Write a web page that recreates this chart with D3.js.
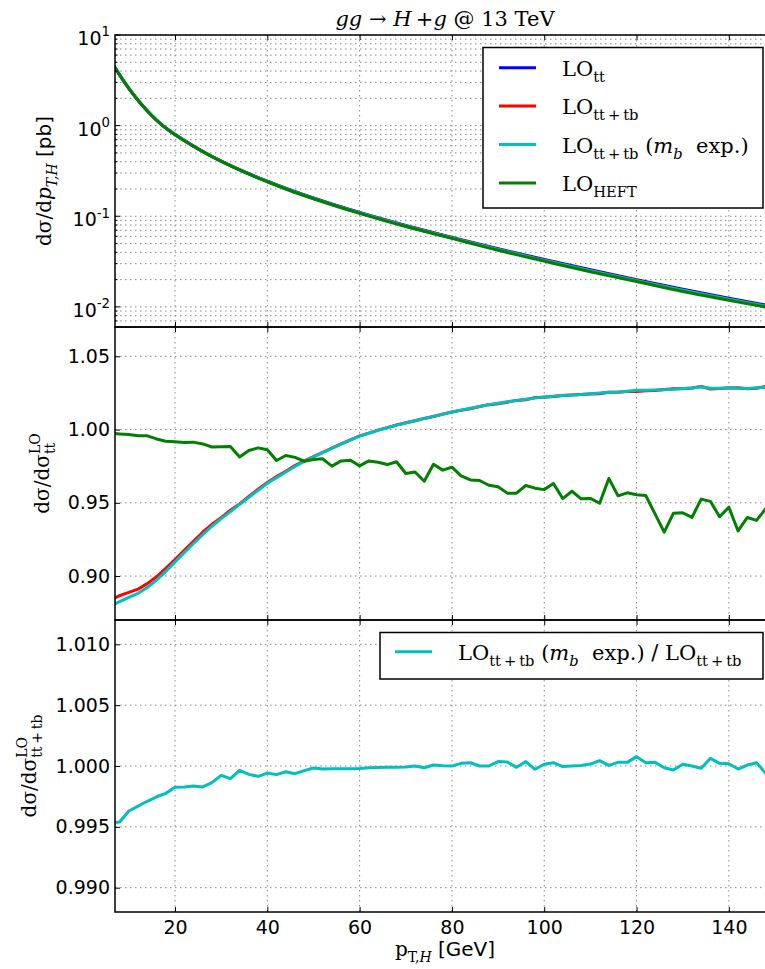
<!DOCTYPE html>
<html lang="en">
<head>
<meta charset="UTF-8">
<title>gg -> H+g @ 13 TeV</title>
<script src="https://d3js.org/d3.v7.min.js"></script>
<style>
  html, body { margin: 0; background: #fff; }
  svg { display: block; }
  text { white-space: pre; }
  .tick text { font-family: "DejaVu Sans", sans-serif; font-size: 19px; fill: #000; }
  .tick line { stroke: #000; stroke-width: 1; }
</style>
</head>
<body>
<div id="vis"></div>
<script>
// ---- data ----
// pT bins of the ratio panels [GeV]
var ptBins = [6, 8, 10, 12, 14, 16, 18, 20, 22, 24, 26, 28, 30, 32, 34, 36, 38, 40, 42, 44, 46, 48, 50, 52,
              54, 56, 58, 60, 62, 64, 66, 68, 70, 72, 74, 76, 78, 80, 82, 84, 86, 88, 90, 92, 94, 96, 98, 100,
              102, 104, 106, 108, 110, 112, 114, 116, 118, 120, 122, 124, 126, 128, 130, 132, 134, 136, 138, 140,
              142, 144, 146, 148, 150];

// middle panel: ratio to LO_tt
var ratioTTTB = [0.8837, 0.8866, 0.8888, 0.8911, 0.8948, 0.8995, 0.9052, 0.9113, 0.9176, 0.9237, 0.9299, 0.9353,
                 0.9399, 0.9450, 0.9492, 0.9544, 0.9593, 0.9639, 0.9679, 0.9715, 0.9754, 0.9787, 0.9815, 0.9845,
                 0.9874, 0.9902, 0.9930, 0.9957, 0.9976, 0.9996, 1.0013, 1.0031, 1.0046, 1.0060, 1.0076, 1.0089,
                 1.0105, 1.0120, 1.0131, 1.0142, 1.0157, 1.0170, 1.0176, 1.0187, 1.0199, 1.0203, 1.0218, 1.0221,
                 1.0225, 1.0233, 1.0236, 1.0239, 1.0243, 1.0245, 1.0254, 1.0254, 1.0259, 1.0260, 1.0265, 1.0267,
                 1.0273, 1.0278, 1.0279, 1.0284, 1.0294, 1.0276, 1.0280, 1.0283, 1.0285, 1.0279, 1.0282, 1.0294, 1.0300];
var ratioMB = [0.8795, 0.8825, 0.8855, 0.8882, 0.8922, 0.8972, 0.9032, 0.9097, 0.9160, 0.9222, 0.9283, 0.9340,
               0.9392, 0.9440, 0.9489, 0.9537, 0.9585, 0.9633, 0.9672, 0.9710, 0.9748, 0.9783, 0.9813, 0.9843,
               0.9872, 0.9900, 0.9928, 0.9955, 0.9975, 0.9995, 1.0012, 1.0030, 1.0045, 1.0060, 1.0075, 1.0090,
               1.0105, 1.0120, 1.0133, 1.0145, 1.0157, 1.0170, 1.0180, 1.0190, 1.0198, 1.0207, 1.0215, 1.0222,
               1.0228, 1.0232, 1.0236, 1.0240, 1.0245, 1.0250, 1.0255, 1.0257, 1.0262, 1.0268, 1.0268, 1.0270,
               1.0272, 1.0275, 1.0280, 1.0284, 1.0292, 1.0282, 1.0282, 1.0285, 1.0282, 1.0280, 1.0285, 1.0288, 1.0290];
var ratioHEFT = [0.9975, 0.9970, 0.9966, 0.9957, 0.9957, 0.9936, 0.9920, 0.9917, 0.9911, 0.9914, 0.9902, 0.9881,
                 0.9882, 0.9884, 0.9813, 0.9857, 0.9875, 0.9862, 0.9789, 0.9823, 0.9810, 0.9784, 0.9795, 0.9800,
                 0.9750, 0.9786, 0.9790, 0.9752, 0.9786, 0.9777, 0.9761, 0.9780, 0.9700, 0.9710, 0.9647, 0.9763,
                 0.9723, 0.9743, 0.9684, 0.9656, 0.9652, 0.9620, 0.9610, 0.9566, 0.9566, 0.9618, 0.9600, 0.9590,
                 0.9632, 0.9529, 0.9579, 0.9527, 0.9530, 0.9497, 0.9666, 0.9547, 0.9568, 0.9555, 0.9550, 0.9424,
                 0.9300, 0.9429, 0.9432, 0.9400, 0.9525, 0.9510, 0.9405, 0.9470, 0.9308, 0.9400, 0.9380, 0.9460, 0.9520];

// bottom panel: LO_tt+tb (mb exp.) / LO_tt+tb
var ratioMBoverTTTB = [0.9953, 0.9954, 0.9963, 0.9967, 0.9971, 0.99747, 0.99775, 0.99825, 0.99828, 0.99836, 0.99828, 0.99863,
                       0.99923, 0.99896, 0.99964, 0.99931, 0.99915, 0.99942, 0.99929, 0.99953, 0.99937, 0.99962, 0.99984, 0.99975,
                       0.99977, 0.99978, 0.99978, 0.99980, 0.99986, 0.99988, 0.99990, 0.99990, 0.99992, 1.00000, 0.99986, 1.00008,
                       1.00002, 0.99999, 1.00022, 1.00027, 1.00000, 1.00000, 1.00036, 1.00033, 0.99989, 1.00036, 0.99973, 1.00014,
                       1.00027, 0.99995, 1.00000, 1.00005, 1.00016, 1.00044, 1.00005, 1.00030, 1.00030, 1.00077, 1.00027, 1.00030,
                       0.99986, 0.99967, 1.00014, 1.00000, 0.99981, 1.00063, 1.00022, 1.00019, 0.99975, 1.00008, 1.00027, 0.99940, 0.99900];

// top panel: dsigma/dpT [pb]
var topPt = [6, 7, 8, 9, 10, 11, 12, 14, 16, 18, 20, 22, 24, 26, 28, 30, 35, 40, 45, 50, 55, 60, 70, 80, 90, 100, 110, 120, 130, 140, 150];
var topTT = [5.309, 4.365, 3.631, 3.048, 2.582, 2.208, 1.905, 1.459, 1.153, 0.946, 0.8017, 0.6887, 0.5970, 0.5212, 0.4592, 0.4074,
             0.3112, 0.2438, 0.1950, 0.1592, 0.1318, 0.1104, 0.07943, 0.05848, 0.04385, 0.03334, 0.02564, 0.01995, 0.01570, 0.01250, 0.01002];
var topTTTB = [5.302, 4.359, 3.626, 3.043, 2.578, 2.204, 1.901, 1.456, 1.150, 0.942, 0.798, 0.686, 0.594, 0.519, 0.4565, 0.405,
               0.309, 0.2421, 0.1932, 0.1576, 0.1303, 0.1091, 0.0782, 0.0577, 0.0430, 0.03266, 0.02504, 0.01951, 0.01526, 0.01217, 0.00978];
var topMB = [5.301, 4.358, 3.625, 3.042, 2.577, 2.203, 1.900, 1.455, 1.149, 0.941, 0.797, 0.685, 0.593, 0.518, 0.4560, 0.4045,
             0.3087, 0.2419, 0.1930, 0.1575, 0.1302, 0.1090, 0.0781, 0.0576, 0.0429, 0.03262, 0.02500, 0.01948, 0.01524, 0.01215, 0.00976];
var topHEFT = [5.296, 4.353, 3.620, 3.038, 2.573, 2.199, 1.897, 1.453, 1.146, 0.9385, 0.7950, 0.6826, 0.5919, 0.5161, 0.4537, 0.4026,
               0.3065, 0.2404, 0.1913, 0.1559, 0.1288, 0.1077, 0.0770, 0.0570, 0.04214, 0.03197, 0.02444, 0.01906, 0.01481, 0.01184, 0.00954];

var xTicks = [20, 40, 60, 80, 100, 120, 140];
var midTicks = [0.90, 0.95, 1.00, 1.05];
var botTicks = [0.990, 0.995, 1.000, 1.005, 1.010];
var topDecades = [-2, -1, 0, 1];

// ---- layout ----
var W = 765, H = 969;
var left = 115, right = 775;
var pTop = [35, 327], pMid = [327, 620], pBot = [620, 912];
var serif = "'DejaVu Serif', serif";
var sans = "'DejaVu Sans', sans-serif";
var colors = {tt: '#0000ff', tttb: '#ff0000', mb: '#00bfbf', heft: '#008000'};

var svg = d3.select('#vis').append('svg')
    .attr('width', W).attr('height', H);

var x = d3.scaleLinear().domain([7, 150]).range([left, right]);
var yTop = d3.scaleLog().domain([0.006, 10]).range([pTop[1], pTop[0]]);
var yMid = d3.scaleLinear().domain([0.87, 1.07]).range([pMid[1], pMid[0]]);
var yBot = d3.scaleLinear().domain([0.988, 1.012]).range([pBot[1], pBot[0]]);

// text with sub/superscripts, parts = [[string, opts], ...]
function rich(sel, parts, base) {
    var off = 0, lastSup = null;
    parts.forEach(function(p) {
        var o = p[1] || {};
        var small = o.sub || o.sup;
        var target = o.sub ? base * 0.3 : (o.sup ? -base * 0.45 : 0);
        var ts = sel.append('tspan').text(p[0])
            .attr('font-size', small ? base * 0.7 : base)
            .attr('dy', target - off);
        off = target;
        if (o.it) ts.attr('font-style', 'italic');
        if (o.sans) ts.attr('font-family', sans);
        if (o.stack && lastSup) ts.attr('dx', -lastSup.node().getComputedTextLength());
        lastSup = o.sup ? ts : null;
    });
}

function grid(yScale, yVals, span) {
    var g = svg.append('g').attr('stroke', '#888').attr('stroke-width', 1)
        .attr('stroke-dasharray', '1.5,3.5').attr('fill', 'none');
    g.selectAll('.gx').data(xTicks).enter().append('line')
        .attr('x1', function(d) { return x(d); }).attr('x2', function(d) { return x(d); })
        .attr('y1', span[0]).attr('y2', span[1]);
    g.selectAll('.gy').data(yVals).enter().append('line')
        .attr('x1', left).attr('x2', right)
        .attr('y1', function(d) { return yScale(d); }).attr('y2', function(d) { return yScale(d); });
}

function clip(id, span) {
    svg.append('clipPath').attr('id', id).append('rect')
        .attr('x', left).attr('y', span[0]).attr('width', right - left).attr('height', span[1] - span[0]);
}

function curve(id, xs, ys, yScale, color, smooth) {
    var line = d3.line()
        .x(function(d, i) { return x(xs[i]); })
        .y(function(d) { return yScale(d); });
    if (smooth) line.curve(d3.curveMonotoneX);
    svg.append('path').datum(ys)
        .attr('clip-path', 'url(#' + id + ')')
        .attr('fill', 'none').attr('stroke', color).attr('stroke-width', 3)
        .attr('stroke-linejoin', 'round')
        .attr('d', line);
}

function xTickMarks(span) {
    svg.append('g').attr('transform', 'translate(0,' + span[0] + ')')
        .call(d3.axisTop(x).tickValues(xTicks).tickSize(-5).tickFormat(''))
        .call(function(g) { g.select('.domain').remove(); });
    svg.append('g').attr('transform', 'translate(0,' + span[1] + ')')
        .call(d3.axisBottom(x).tickValues(xTicks).tickSize(-5).tickFormat(''))
        .call(function(g) { g.select('.domain').remove(); });
}

function frame(span) {
    svg.append('rect').attr('x', left).attr('y', span[0])
        .attr('width', right - left).attr('height', span[1] - span[0])
        .attr('fill', 'none').attr('stroke', '#000').attr('stroke-width', 1.5);
}

// ---- top panel ----
var topAll = yTop.ticks();  // 1..9 x 10^k
grid(yTop, topAll, pTop);
clip('cTop', pTop);
curve('cTop', topPt, topTT, yTop, colors.tt, true);
curve('cTop', topPt, topTTTB, yTop, colors.tttb, true);
curve('cTop', topPt, topMB, yTop, colors.mb, true);
curve('cTop', topPt, topHEFT, yTop, colors.heft, true);

var gTopAxis = svg.append('g');
gTopAxis.selectAll('line').data(topAll).enter().append('line')
    .attr('x1', left).attr('y1', function(d) { return yTop(d); })
    .attr('x2', function(d) { return left + (Math.abs(Math.log10(d) - Math.round(Math.log10(d))) < 1e-9 ? 5 : 2.5); })
    .attr('y2', function(d) { return yTop(d); })
    .attr('stroke', '#000');
topDecades.forEach(function(k) {
    var t = svg.append('text')
        .attr('x', left - 5).attr('y', yTop(Math.pow(10, k)) + 10)
        .attr('text-anchor', 'end').attr('font-family', sans);
    rich(t, [['10'], [String(k), {sup: true}]], 19);
});
xTickMarks(pTop);

// ---- middle panel ----
grid(yMid, midTicks, pMid);
clip('cMid', pMid);
curve('cMid', ptBins, ratioTTTB, yMid, colors.tttb);
curve('cMid', ptBins, ratioMB, yMid, colors.mb);
curve('cMid', ptBins, ratioHEFT, yMid, colors.heft);
svg.append('g').attr('transform', 'translate(' + left + ',0)')
    .call(d3.axisLeft(yMid).tickValues(midTicks).tickFormat(d3.format('.2f')).tickSize(-5).tickPadding(5))
    .call(function(g) { g.select('.domain').remove(); });
xTickMarks(pMid);

// ---- bottom panel ----
grid(yBot, botTicks, pBot);
clip('cBot', pBot);
curve('cBot', ptBins, ratioMBoverTTTB, yBot, colors.mb);
svg.append('g').attr('transform', 'translate(' + left + ',0)')
    .call(d3.axisLeft(yBot).tickValues(botTicks).tickFormat(d3.format('.3f')).tickSize(-5).tickPadding(5))
    .call(function(g) { g.select('.domain').remove(); });
svg.append('g').attr('transform', 'translate(0,' + pBot[0] + ')')
    .call(d3.axisTop(x).tickValues(xTicks).tickSize(-5).tickFormat(''))
    .call(function(g) { g.select('.domain').remove(); });
svg.append('g').attr('transform', 'translate(0,' + pBot[1] + ')')
    .call(d3.axisBottom(x).tickValues(xTicks).tickSize(-5).tickPadding(8.5).tickFormat(d3.format('d')))
    .call(function(g) { g.select('.domain').remove(); });

frame(pTop);
frame(pMid);
frame(pBot);

// ---- legends ----
var legTop = [
    {c: colors.tt, parts: [['LO'], ['tt', {sub: true}]]},
    {c: colors.tttb, parts: [['LO'], ['tt\u2009+\u2009tb', {sub: true}]]},
    {c: colors.mb, parts: [['LO'], ['tt\u2009+\u2009tb', {sub: true}], [' ('], ['m', {it: true}], ['b', {sub: true, it: true}], ['  exp.)']]},
    {c: colors.heft, parts: [['LO'], ['HEFT', {sub: true}]]}
];
svg.append('rect').attr('x', 483).attr('y', 47.5).attr('width', 280).attr('height', 160.5)
    .attr('fill', '#fff').attr('stroke', '#000').attr('stroke-width', 1.5);
legTop.forEach(function(d, i) {
    var yy = 67.7 + i * 38.4;
    svg.append('line').attr('x1', 499).attr('x2', 536).attr('y1', yy).attr('y2', yy)
        .attr('stroke', d.c).attr('stroke-width', 3);
    var t = svg.append('text').attr('x', 562).attr('y', yy + 8).attr('font-family', serif);
    rich(t, d.parts, 21);
});

svg.append('rect').attr('x', 380).attr('y', 632.5).attr('width', 383).attr('height', 46.5)
    .attr('fill', '#fff').attr('stroke', '#000').attr('stroke-width', 1.5);
svg.append('line').attr('x1', 395).attr('x2', 432).attr('y1', 651.7).attr('y2', 651.7)
    .attr('stroke', colors.mb).attr('stroke-width', 3);
var tb = svg.append('text').attr('x', 458).attr('y', 659.5).attr('font-family', serif);
rich(tb, [['LO'], ['tt\u2009+\u2009tb', {sub: true}], [' ('], ['m', {it: true}], ['b', {sub: true, it: true}], ['  exp.) '],
          ['/', {sans: true}], [' LO'], ['tt\u2009+\u2009tb', {sub: true}]], 21);

// ---- titles and axis labels ----
var title = svg.append('text').attr('x', (left + right) / 2).attr('y', 26)
    .attr('text-anchor', 'middle').attr('font-family', serif);
rich(title, [['gg', {it: true}], [' \u2192 '], ['H', {it: true}], ['\u2009+'], ['g', {it: true}], [' @ 13 TeV']], 21);

var yl1 = svg.append('text').attr('transform', 'translate(51,' + ((pTop[0] + pTop[1]) / 2) + ') rotate(-90)')
    .attr('text-anchor', 'middle').attr('font-family', serif);
rich(yl1, [['d\u03c3/d'], ['p', {it: true}], ['T,H', {sub: true, it: true}], [' [pb]', {sans: true}]], 20);

var yl2 = svg.append('text').attr('transform', 'translate(49,' + ((pMid[0] + pMid[1]) / 2) + ') rotate(-90)')
    .attr('text-anchor', 'middle').attr('font-family', serif);
rich(yl2, [['d\u03c3/d\u03c3'], ['LO', {sup: true}], ['tt', {sub: true, stack: true}]], 20);

var yl3 = svg.append('text').attr('transform', 'translate(36,' + ((pBot[0] + pBot[1]) / 2) + ') rotate(-90)')
    .attr('text-anchor', 'middle').attr('font-family', serif);
rich(yl3, [['d\u03c3/d\u03c3'], ['LO', {sup: true}], ['tt\u2009+\u2009tb', {sub: true, stack: true}]], 20);

var xl = svg.append('text').attr('x', (left + right) / 2).attr('y', 956)
    .attr('text-anchor', 'middle').attr('font-family', serif);
rich(xl, [['p'], ['T,', {sub: true}], ['H', {sub: true, it: true}], [' [GeV]', {sans: true}]], 20);
</script>
</body>
</html>
